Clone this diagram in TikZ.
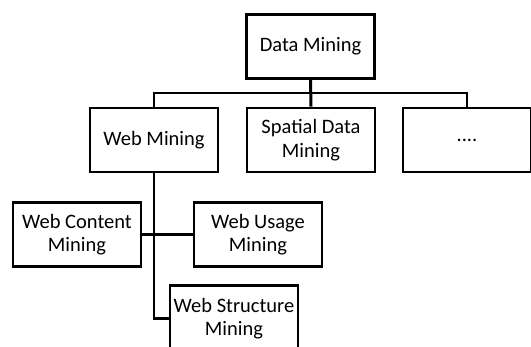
\documentclass[tikz,border=0pt]{standalone}
\usepackage{fontspec}
\setmainfont{Carlito}
\begin{document}
\begin{tikzpicture}[x=1pt,y=-1pt,
  box/.style={draw, line width=2.8pt, rectangle, minimum width=128pt, minimum height=64pt, align=center, inner sep=0pt, font=\fontsize{20.5}{23.5}\selectfont},
  conn/.style={line width=2.2pt}]
\clip (0,0) rectangle (531,347);
\fill[white] (0,0) rectangle (531,347);
\node[box] (dm) at (310.5,46.5) {Data Mining};
\node[box] (wm) at (154,140) {Web Mining};
\node[box] (sp) at (311,140) {Spatial Data\\Mining};
\node[box] (dots) at (467,140) {....};
\node[box] (wc) at (77,234.5) {Web Content\\Mining};
\node[box] (wu) at (258,234.5) {Web Usage\\Mining};
\node[box, minimum height=66pt] (ws) at (234,318.5) {Web Structure\\Mining};
\coordinate (bus) at (310.5,93);
\draw[line width=3pt] (dm.south) -- (sp.north);
\draw[conn] (wm.north) |- (bus) -| (dots.north);
\draw[conn] (wm.south) |- (ws.west);
\draw[conn] (wc.east) -- (wu.west);
\end{tikzpicture}
\end{document}
